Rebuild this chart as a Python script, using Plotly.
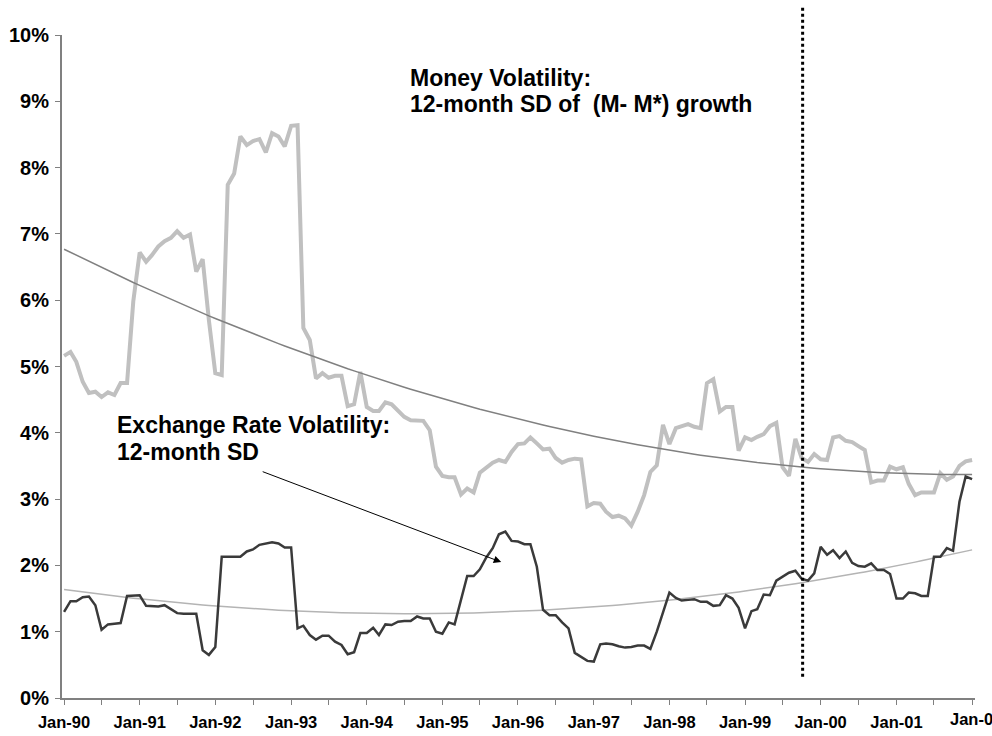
import numpy as np
import pandas as pd
import plotly.graph_objects as go

# ---- data (monthly, Jan-1990 .. Jan-2002), values in percent ----
start_month = "1990-01-01"

money_vol = [
    5.16, 5.22, 5.07, 4.77, 4.60, 4.62, 4.54, 4.61, 4.57, 4.75, 4.75, 5.98,
    6.72, 6.58, 6.68, 6.81, 6.89, 6.94, 7.04, 6.94, 6.99, 6.43, 6.62, 5.70,
    4.90, 4.87, 7.74, 7.91, 8.47, 8.34, 8.40, 8.43, 8.23, 8.52, 8.47, 8.32,
    8.63, 8.64, 5.58, 5.40, 4.82, 4.90, 4.83, 4.86, 4.86, 4.40, 4.43, 4.92,
    4.39, 4.33, 4.33, 4.46, 4.43, 4.33, 4.24, 4.19, 4.18, 4.18, 4.04, 3.49,
    3.35, 3.33, 3.33, 3.07, 3.16, 3.10, 3.40, 3.47, 3.55, 3.59, 3.56, 3.71,
    3.83, 3.84, 3.93, 3.84, 3.75, 3.76, 3.62, 3.55, 3.59, 3.61, 3.60, 2.89,
    2.94, 2.93, 2.81, 2.73, 2.75, 2.71, 2.60, 2.81, 3.06, 3.41, 3.51, 4.12,
    3.83, 4.07, 4.10, 4.13, 4.09, 4.07, 4.75, 4.81, 4.32, 4.39, 4.39, 3.73,
    3.93, 3.89, 3.94, 3.98, 4.10, 4.15, 3.48, 3.35, 3.91, 3.62, 3.56, 3.68,
    3.60, 3.59, 3.93, 3.95, 3.88, 3.86, 3.80, 3.74, 3.25, 3.28, 3.28, 3.49,
    3.45, 3.48, 3.23, 3.06, 3.10, 3.10, 3.10, 3.39, 3.29, 3.34, 3.50, 3.57,
    3.59,
]

fx_vol = [
    1.30, 1.46, 1.46, 1.52, 1.53, 1.40, 1.03, 1.11, 1.12, 1.13, 1.54, 1.54,
    1.55, 1.39, 1.39, 1.38, 1.40, 1.34, 1.28, 1.27, 1.27, 1.27, 0.72, 0.65,
    0.77, 2.13, 2.13, 2.13, 2.13, 2.21, 2.24, 2.31, 2.33, 2.35, 2.33, 2.27,
    2.27, 1.05, 1.09, 0.95, 0.88, 0.94, 0.94, 0.85, 0.80, 0.66, 0.69, 0.98,
    0.98, 1.06, 0.95, 1.11, 1.10, 1.15, 1.16, 1.16, 1.23, 1.20, 1.20, 1.00,
    0.97, 1.14, 1.11, 1.50, 1.84, 1.84, 1.94, 2.12, 2.26, 2.47, 2.51, 2.37,
    2.36, 2.32, 2.32, 1.98, 1.33, 1.25, 1.25, 1.14, 1.05, 0.68, 0.62, 0.56,
    0.55, 0.81, 0.82, 0.81, 0.78, 0.76, 0.77, 0.79, 0.79, 0.74, 1.00, 1.30,
    1.59, 1.51, 1.47, 1.48, 1.49, 1.45, 1.45, 1.39, 1.40, 1.55, 1.50, 1.36,
    1.05, 1.31, 1.34, 1.56, 1.55, 1.77, 1.83, 1.89, 1.92, 1.80, 1.77, 1.88,
    2.28, 2.16, 2.23, 2.11, 2.21, 2.04, 1.99, 1.98, 2.03, 1.93, 1.93, 1.87,
    1.50, 1.50, 1.59, 1.58, 1.54, 1.54, 2.13, 2.13, 2.26, 2.22, 2.96, 3.34,
    3.30,
]

tick_dates = pd.date_range("1990-01-01", "2002-01-01", freq="6MS")
tick_labels = [d.strftime("Jan-%y") if d.month == 1 else "" for d in tick_dates]
last_tick_label = "Jan-0"   # the final (Jan-02) label appears cut at the chart edge

event_date = "1999-10-06"

money_label_lines = ["Money Volatility:", "12-month SD of\u00a0 (M- M*) growth"]
fx_label_lines = ["Exchange Rate Volatility:", "12-month SD"]

# ---- derived ----
dates = pd.date_range(start_month, periods=len(money_vol), freq="MS")
t = np.arange(len(money_vol))
money_trend = np.polyval(np.polyfit(t, money_vol, 2), t)
fx_trend = np.polyval(np.polyfit(t, fx_vol, 2), t)

axis_labels = tick_labels[:-1] + [""]

FONT = "Arial, 'Liberation Sans', sans-serif"
TICK_FONT = dict(family=FONT, size=16.5, color="black", weight="bold")

fig = go.Figure()
fig.add_trace(go.Scatter(x=dates, y=money_vol, mode="lines",
                         line=dict(color="#c0c0c0", width=4), name="Money volatility"))
fig.add_trace(go.Scatter(x=dates, y=money_trend, mode="lines",
                         line=dict(color="#808080", width=1.5), name="Money trend"))
fig.add_trace(go.Scatter(x=dates, y=fx_trend, mode="lines",
                         line=dict(color="#b4b4b4", width=1.5), name="FX trend"))
fig.add_trace(go.Scatter(x=dates, y=fx_vol, mode="lines",
                         line=dict(color="#3a3a3a", width=2.5), name="FX volatility"))

fig.add_shape(type="line", xref="x", yref="paper",
              x0=event_date, x1=event_date, y0=0.032, y1=1.045,
              line=dict(color="black", width=3, dash="dot"))

ann_font = dict(family=FONT, size=23, color="black", weight="bold")
for txt, yv in zip(money_label_lines, [9.35, 8.96]):
    fig.add_annotation(x="1994-07-20", y=yv, xref="x", yref="y", text=txt,
                       showarrow=False, xanchor="left", yanchor="middle", font=ann_font)
for txt, yv in zip(fx_label_lines, [4.12, 3.71]):
    fig.add_annotation(x="1990-09-05", y=yv, xref="x", yref="y", text=txt,
                       showarrow=False, xanchor="left", yanchor="middle", font=ann_font)
fig.add_annotation(x="1995-10-12", y=2.05, xref="x", yref="y", text="",
                   showarrow=True, ax=-240, ay=-91, axref="pixel", ayref="pixel",
                   arrowhead=2, arrowsize=1.5, arrowwidth=1, arrowcolor="black")

# last x label, kept just inside the right edge
fig.add_annotation(x=tick_dates[-1], y=0, xref="x", yref="paper", text=last_tick_label,
                   showarrow=False, xanchor="left", yanchor="middle",
                   xshift=-24, yshift=-21, font=TICK_FONT)

fig.update_layout(
    width=992, height=736,
    margin=dict(l=62, r=17, t=35, b=38),
    paper_bgcolor="white", plot_bgcolor="white",
    showlegend=False,
    font=dict(family=FONT, color="black"),
)
fig.update_xaxes(
    type="date", range=["1989-12-22", "2002-01-15"],
    tickvals=tick_dates, ticktext=axis_labels,
    ticks="outside", ticklen=5, tickcolor="#808080", tickwidth=1,
    showline=True, linecolor="#808080", linewidth=2,
    showgrid=False, zeroline=False, automargin=False, ticklabelstandoff=3,
    tickfont=TICK_FONT,
)
fig.update_yaxes(
    range=[0, 10], dtick=1, tick0=0, ticksuffix="%",
    ticks="outside", ticklen=5, tickcolor="#808080", tickwidth=1,
    showline=True, linecolor="#808080", linewidth=2,
    showgrid=False, zeroline=False, automargin=False, ticklabelstandoff=2,
    tickfont=dict(family=FONT, size=20, color="black", weight="bold"),
)

fig.write_html(
    "out.html",
    config={"displayModeBar": False},
    post_script="document.body.style.margin='0px';document.body.style.overflow='hidden';",
)
